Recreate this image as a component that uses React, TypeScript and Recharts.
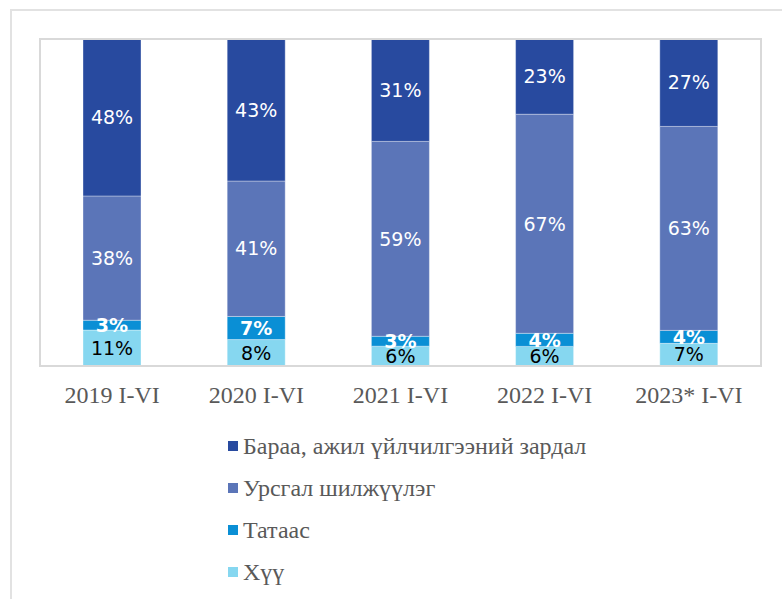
import React from 'react';
import { BarChart, Bar, XAxis, YAxis, LabelList, Legend } from 'recharts';

const categories = ['2019 I-VI', '2020 I-VI', '2021 I-VI', '2022 I-VI', '2023* I-VI'];
const khuu = [11, 8, 6, 6, 7];
const tataas = [3, 7, 3, 4, 4];
const ursgal = [38, 41, 59, 67, 63];
const baraa = [48, 43, 31, 23, 27];

const seriesNames = {
  baraa: 'Бараа, ажил үйлчилгээний зардал',
  ursgal: 'Урсгал шилжүүлэг',
  tataas: 'Татаас',
  khuu: 'Хүү',
};
const colors = {
  baraa: '#284a9f',
  ursgal: '#5b75b8',
  tataas: '#0a8fd5',
  khuu: '#86d7f0',
};
const legendOrder: Array<keyof typeof seriesNames> = ['baraa', 'ursgal', 'tataas', 'khuu'];

const data = categories.map((c, i) => ({
  name: c,
  khuu: khuu[i],
  tataas: tataas[i],
  ursgal: ursgal[i],
  baraa: baraa[i],
}));

const fmt = (v: any) => `${v}%`;
const labelFont = '"DejaVu Sans", sans-serif';

const LegendContent = () => (
  <div style={{ fontFamily: '"Liberation Serif", serif', fontSize: 24, color: '#595959' }}>
    {legendOrder.map((k) => (
      <div key={k} style={{ display: 'flex', alignItems: 'center', height: 42 }}>
        <span style={{ width: 10, height: 10, background: colors[k], display: 'inline-block', marginRight: 5 }} />
        <span>{seriesNames[k]}</span>
      </div>
    ))}
  </div>
);

export default function App() {
  return (
    <div style={{ position: 'absolute', left: 0, top: 0, width: 782, height: 599, overflow: 'hidden', background: '#fff' }}>
      <div style={{ position: 'absolute', left: 10, top: 9, width: 900, height: 900, border: '2px solid #e2e2e2', boxSizing: 'border-box' }} />
      <BarChart
        width={782}
        height={599}
        data={data}
        stackOffset="expand"
        margin={{ top: 39, left: 40, right: 21, bottom: 193 }}
        style={{ position: 'absolute', left: 0, top: 0 }}
      >
        <XAxis
          dataKey="name"
          height={40}
          axisLine={false}
          tickLine={false}
          tickSize={0}
          tickMargin={20}
          tick={{ fill: '#595959', fontSize: 24, fontFamily: '"Liberation Serif", serif' }}
        />
        <YAxis hide domain={[0, 1]} />
        <Legend
          layout="vertical"
          align="center"
          verticalAlign="middle"
          wrapperStyle={{ position: 'absolute', left: 228, top: 425, width: 450 }}
          content={LegendContent}
        />
        <Bar dataKey="khuu" stackId="a" fill={colors.khuu} barSize={58} stroke="#ffffff" strokeOpacity={0.35} isAnimationActive={false}>
          <LabelList dataKey="khuu" position="center" formatter={fmt} fill="#000000" fontSize={19} fontFamily={labelFont} />
        </Bar>
        <Bar dataKey="tataas" stackId="a" fill={colors.tataas} barSize={58} stroke="#ffffff" strokeOpacity={0.35} isAnimationActive={false}>
          <LabelList dataKey="tataas" position="center" formatter={fmt} fill="#ffffff" fontSize={19} fontWeight="bold" fontFamily={labelFont} />
        </Bar>
        <Bar dataKey="ursgal" stackId="a" fill={colors.ursgal} barSize={58} stroke="#ffffff" strokeOpacity={0.35} isAnimationActive={false}>
          <LabelList dataKey="ursgal" position="center" formatter={fmt} fill="#ffffff" fontSize={19} fontFamily={labelFont} />
        </Bar>
        <Bar dataKey="baraa" stackId="a" fill={colors.baraa} barSize={58} stroke="#ffffff" strokeOpacity={0.35} isAnimationActive={false}>
          <LabelList dataKey="baraa" position="center" formatter={fmt} fill="#ffffff" fontSize={19} fontFamily={labelFont} />
        </Bar>
      </BarChart>
      <div style={{ position: 'absolute', left: 39, top: 38, width: 723, height: 329, border: '2px solid #d9d9d9', boxSizing: 'border-box', pointerEvents: 'none' }} />
    </div>
  );
}
